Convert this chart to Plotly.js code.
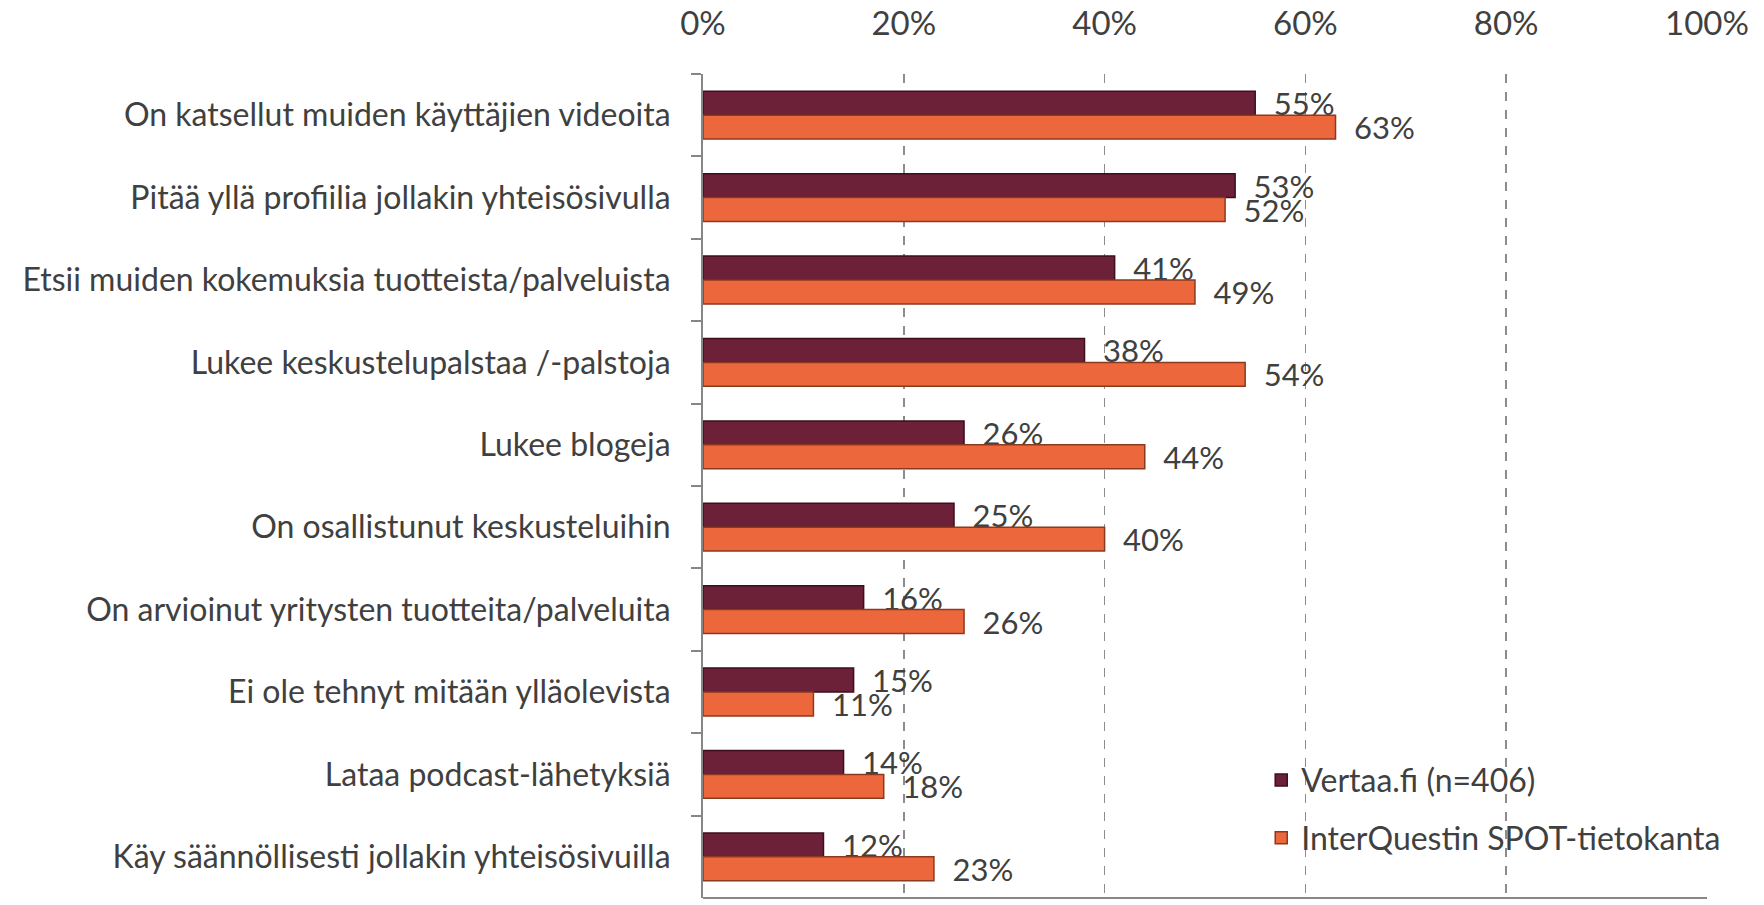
<!DOCTYPE html>
<html><head><meta charset="utf-8">
<script src="https://cdn.plot.ly/plotly-3.0.1.min.js"></script>
<style>html,body{margin:0;padding:0;background:#fff;}#chart{width:1764px;height:905px;}</style>
</head><body><div id="chart"></div>
<script>
const categories = [
  "On katsellut muiden käyttäjien videoita",
  "Pitää yllä profiilia jollakin yhteisösivulla",
  "Etsii muiden kokemuksia tuotteista/palveluista",
  "Lukee keskustelupalstaa /-palstoja",
  "Lukee blogeja",
  "On osallistunut keskusteluihin",
  "On arvioinut yritysten tuotteita/palveluita",
  "Ei ole tehnyt mitään ylläolevista",
  "Lataa podcast-lähetyksiä",
  "Käy säännöllisesti jollakin yhteisösivuilla"
];
const seriesNames = ["Vertaa.fi (n=406)", "InterQuestin SPOT-tietokanta"];
const vertaa = [55, 53, 41, 38, 26, 25, 16, 15, 14, 12];
const spot = [63, 52, 49, 54, 44, 40, 26, 11, 18, 23];
const xTicks = [0, 20, 40, 60, 80, 100];
const xTickLabels = ["0%", "20%", "40%", "60%", "80%", "100%"];

const FONT = "Lato, 'Open Sans', sans-serif";
const TXT = "#404040";

function barTrace(vals, name, color, lineColor, legendId) {
  return {
    type: "bar", orientation: "h",
    y: categories, x: vals.map(v => v / 100),
    name: name,
    marker: {color: color, line: {color: lineColor, width: 1.5}},
    text: vals.map(v => "\u2002" + v + "%"),
    textposition: "outside",
    constraintext: "none",
    cliponaxis: false,
    textfont: {family: FONT, size: 31, color: TXT},
    legend: legendId,
    hoverinfo: "skip"
  };
}

const data = [
  barTrace(vertaa, seriesNames[0], "#6d2139", "#3d0f1e", "legend"),
  barTrace(spot, seriesNames[1], "#ec673b", "#8a3a1e", "legend2")
];

const layout = {
  width: 1764, height: 905,
  margin: {l: 703, r: 57, t: 74, b: 7},
  paper_bgcolor: "#fff", plot_bgcolor: "#fff",
  barmode: "group", bargap: 0.42, bargroupgap: 0,
  font: {family: FONT, color: TXT, size: 32},
  xaxis: {
    side: "top", range: [0, 1], tickvals: xTicks.map(v => v / 100), ticktext: xTickLabels,
    showgrid: true, gridcolor: "#8c8c8c", griddash: "dash", gridwidth: 1.5,
    zeroline: false, showline: false, ticks: "", ticklabelstandoff: 31,
    tickfont: {family: FONT, size: 33, color: TXT}, fixedrange: true
  },
  yaxis: {
    type: "category", autorange: "reversed",
    showline: true, linecolor: "#868686", linewidth: 2,
    ticks: "outside", ticklen: 10, tickcolor: "#868686", tickwidth: 2, tickson: "boundaries",
    showgrid: false, ticklabelstandoff: 24,
    tickfont: {family: FONT, size: 32, color: TXT}, fixedrange: true
  },
  shapes: [
    {type: "line", xref: "paper", yref: "paper", x0: 0, x1: 1, y0: 0, y1: 0,
     line: {color: "#868686", width: 2}}
  ],
  legend: {x: 0.556, y: 0.143, xanchor: "left", yanchor: "middle", bgcolor: "rgba(0,0,0,0)",
           font: {family: FONT, size: 32, color: TXT}},
  legend2: {x: 0.556, y: 0.073, xanchor: "left", yanchor: "middle", bgcolor: "rgba(0,0,0,0)",
           font: {family: FONT, size: 32, color: TXT}},
  showlegend: true
};

Plotly.newPlot("chart", data, layout, {displayModeBar: false, staticPlot: true});
</script>
</body></html>
